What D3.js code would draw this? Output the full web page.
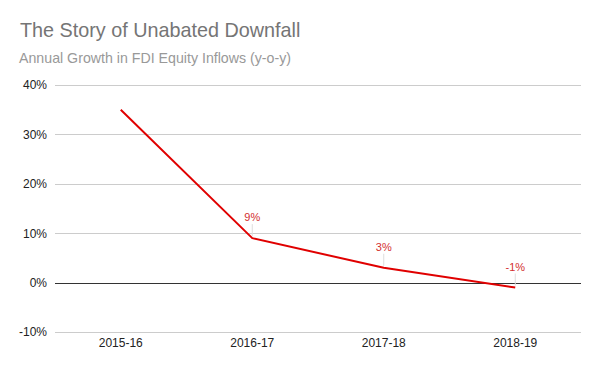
<!DOCTYPE html>
<html>
<head>
<meta charset="utf-8">
<script src="https://cdn.jsdelivr.net/npm/d3@7"></script>
<style>
  body { margin: 0; background: #fff; }
  svg { font-family: "Liberation Sans", Arial, sans-serif; }
</style>
</head>
<body>
<svg class="mainsvg" width="600" height="371"></svg>
<script>
var years = ["2015-16", "2016-17", "2017-18", "2018-19"];
var growth = [35, 9, 3, -1];
var labelled = [false, true, true, true];
var yTicks = [-10, 0, 10, 20, 30, 40];

var svg = d3.select(".mainsvg");
var plotLeft = 55, plotRight = 581, plotTop = 85, plotBottom = 332;

svg.append("rect").attr("width", 600).attr("height", 371).attr("fill", "#fff");

svg.append("text")
    .attr("x", 20).attr("y", 37)
    .attr("font-size", 19.8)
    .attr("fill", "#757575")
    .text("The Story of Unabated Downfall");

svg.append("text")
    .attr("x", 19).attr("y", 63)
    .attr("font-size", 14.2)
    .attr("fill", "#999")
    .text("Annual Growth in FDI Equity Inflows (y-o-y)");

var x = d3.scaleBand().domain(years).range([plotLeft, plotRight]);
var y = d3.scaleLinear().domain([-10, 40]).range([plotBottom, plotTop]);

// gridlines
svg.append("g")
    .selectAll("line")
    .data(yTicks)
    .enter().append("line")
    .attr("x1", plotLeft).attr("x2", plotRight)
    .attr("y1", function (d) { return Math.round(y(d)) + 0.5; })
    .attr("y2", function (d) { return Math.round(y(d)) + 0.5; })
    .attr("stroke", function (d) { return d === 0 ? "#333" : "#ccc"; })
    .attr("stroke-width", 1);

// y axis labels
var yAxis = svg.append("g")
    .attr("transform", "translate(" + (plotLeft - 8) + ",0)")
    .call(d3.axisLeft(y).tickValues(yTicks).tickSize(0).tickPadding(0)
        .tickFormat(function (d) { return d + "%"; }));
yAxis.select(".domain").remove();
yAxis.selectAll("text")
    .attr("font-size", 12)
    .attr("font-family", "Liberation Sans, Arial, sans-serif")
    .attr("fill", "#222");

// x axis labels
var xAxis = svg.append("g")
    .attr("transform", "translate(0," + (plotBottom + 6) + ")")
    .call(d3.axisBottom(x).tickSize(0).tickPadding(0));
xAxis.select(".domain").remove();
xAxis.selectAll("text")
    .attr("font-size", 12)
    .attr("font-family", "Liberation Sans, Arial, sans-serif")
    .attr("fill", "#222");

var cx = function (i) { return x(years[i]) + x.bandwidth() / 2; };

// leader lines + data labels
var lab = svg.append("g").selectAll("g")
    .data(growth.map(function (v, i) { return { v: v, i: i }; })
        .filter(function (d) { return labelled[d.i]; }))
    .enter().append("g");

lab.append("line")
    .attr("x1", function (d) { return cx(d.i); })
    .attr("x2", function (d) { return cx(d.i); })
    .attr("y1", function (d) { return y(d.v) - 2; })
    .attr("y2", function (d) { return y(d.v) - 14; })
    .attr("stroke", "#ddd")
    .attr("stroke-width", 1);

lab.append("text")
    .attr("x", function (d) { return cx(d.i); })
    .attr("y", function (d) { return y(d.v) - 17; })
    .attr("text-anchor", "middle")
    .attr("font-size", 11)
    .attr("fill", "#d32f2f")
    .text(function (d) { return d.v + "%"; });

// line
var line = d3.line()
    .x(function (d, i) { return cx(i); })
    .y(function (d) { return y(d); });

svg.append("path")
    .datum(growth)
    .attr("d", line)
    .attr("fill", "none")
    .attr("stroke", "#e00000")
    .attr("stroke-width", 2)
    .attr("stroke-linejoin", "round");
</script>
</body>
</html>
